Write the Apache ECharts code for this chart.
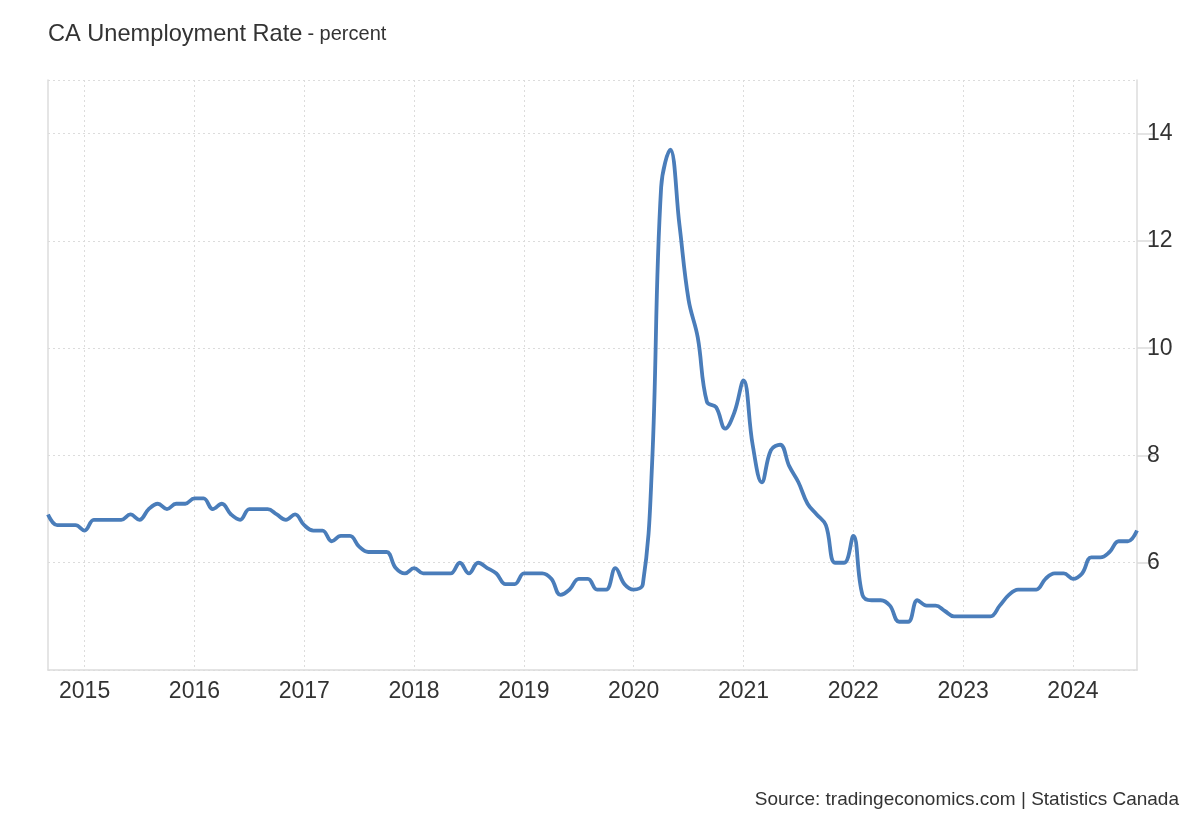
<!DOCTYPE html>
<html>
<head>
<meta charset="utf-8">
<script src="https://cdn.jsdelivr.net/npm/echarts@6/dist/echarts.min.js"></script>
<style>
  html, body { margin: 0; padding: 0; background: #ffffff; }
  #chart { width: 1200px; height: 820px; }
</style>
</head>
<body>
<div id="chart"></div>
<script>
// Monthly unemployment rate (%), Sep 2014 - Aug 2024
const rate2014 = [6.9, 6.7, 6.7, 6.7]; // Sep-Dec
const rate2015 = [6.6, 6.8, 6.8, 6.8, 6.8, 6.9, 6.8, 7.0, 7.1, 7.0, 7.1, 7.1];
const rate2016 = [7.2, 7.2, 7.0, 7.1, 6.9, 6.8, 7.0, 7.0, 7.0, 6.9, 6.8, 6.9];
const rate2017 = [6.7, 6.6, 6.6, 6.4, 6.5, 6.5, 6.3, 6.2, 6.2, 6.2, 5.9, 5.8];
const rate2018 = [5.9, 5.8, 5.8, 5.8, 5.8, 6.0, 5.8, 6.0, 5.9, 5.8, 5.6, 5.6];
const rate2019 = [5.8, 5.8, 5.8, 5.7, 5.4, 5.5, 5.7, 5.7, 5.5, 5.5, 5.9, 5.6];
const rate2020 = [5.5, 5.6, 7.8, 13.0, 13.7, 12.3, 10.9, 10.2, 9.0, 8.9, 8.5, 8.8];
const rate2021 = [9.4, 8.2, 7.5, 8.1, 8.2, 7.8, 7.5, 7.1, 6.9, 6.7, 6.0, 6.0];
const rate2022 = [6.5, 5.4, 5.3, 5.3, 5.2, 4.9, 4.9, 5.3, 5.2, 5.2, 5.1, 5.0];
const rate2023 = [5.0, 5.0, 5.0, 5.0, 5.2, 5.4, 5.5, 5.5, 5.5, 5.7, 5.8, 5.8];
const rate2024 = [5.7, 5.8, 6.1, 6.1, 6.2, 6.4, 6.4, 6.6]; // Jan-Aug

const firstYear = 2014;
const firstMonth = 9;
const yTicks = [6, 8, 10, 12, 14];

const rates = [].concat(rate2014, rate2015, rate2016, rate2017, rate2018,
  rate2019, rate2020, rate2021, rate2022, rate2023, rate2024);

// month category labels "YYYY-MM"
const months = [];
{
  let y = firstYear, m = firstMonth;
  for (let i = 0; i < rates.length; i++) {
    months.push(y + '-' + String(m).padStart(2, '0'));
    m++; if (m > 12) { m = 1; y++; }
  }
}

const isJan = (idx, val) => String(val).endsWith('-01');

const chart = echarts.init(document.getElementById('chart'), null, { renderer: 'canvas' });
const gridColor = '#dcdcdc';
const textColor = '#333333';
const font = 'Liberation Sans, Arial, Helvetica, sans-serif';

chart.setOption({
  animation: false,
  backgroundColor: '#ffffff',
  textStyle: { fontFamily: font },
  title: {
    left: 48,
    top: 22,
    padding: 0,
    text: '{a|CA Unemployment Rate} {b|- percent}',
    textStyle: {
      fontWeight: 'normal',
      rich: {
        a: { fontSize: 23.6, color: textColor, fontFamily: font, fontWeight: 'normal' },
        b: { fontSize: 20, color: textColor, fontFamily: font, fontWeight: 'normal' }
      }
    }
  },
  graphic: [{
    type: 'text',
    right: 21,
    top: 790,
    style: {
      text: 'Source: tradingeconomics.com | Statistics Canada',
      fontSize: 19,
      fill: textColor,
      fontFamily: font
    }
  }],
  grid: { left: 48, right: 63, top: 80, bottom: 150, containLabel: false },
  xAxis: {
    type: 'category',
    data: months,
    boundaryGap: false,
    axisLine: { show: true, lineStyle: { color: gridColor, width: 1.5 } },
    axisTick: { show: false },
    axisLabel: {
      interval: isJan,
      formatter: v => v.endsWith('-01') ? v.slice(0, 4) : '',
      fontSize: 23,
      color: textColor,
      margin: 10,
      fontFamily: font
    },
    splitLine: {
      show: true,
      interval: isJan,
      lineStyle: { color: gridColor, type: [2, 3], width: 1 }
    }
  },
  yAxis: [{
    type: 'value',
    position: 'right',
    min: 4,
    max: 15,
    interval: 2,
    axisLine: { show: true, lineStyle: { color: gridColor, width: 1.5 } },
    axisTick: { show: true, inside: false, length: 18, lineStyle: { color: gridColor, width: 1.5 } },
    axisLabel: {
      showMinLabel: false,
      showMaxLabel: false,
      formatter: v => yTicks.includes(v) ? String(v) : '',
      fontSize: 23,
      color: textColor,
      margin: 10,
      fontFamily: font
    },
    splitLine: { show: true, lineStyle: { color: gridColor, type: [2, 3], width: 1 } }
  }, {
    type: 'value',
    position: 'left',
    min: 4,
    max: 15,
    axisLine: { show: true, lineStyle: { color: gridColor, width: 1.5 } },
    axisTick: { show: false },
    axisLabel: { show: false },
    splitLine: { show: false }
  }],
  series: [{
    type: 'line',
    data: rates,
    yAxisIndex: 0,
    smooth: 0.4,
    showSymbol: false,
    lineStyle: { color: '#4a7dba', width: 3.8 },
    itemStyle: { color: '#4a7dba' }
  }]
});
</script>
</body>
</html>
